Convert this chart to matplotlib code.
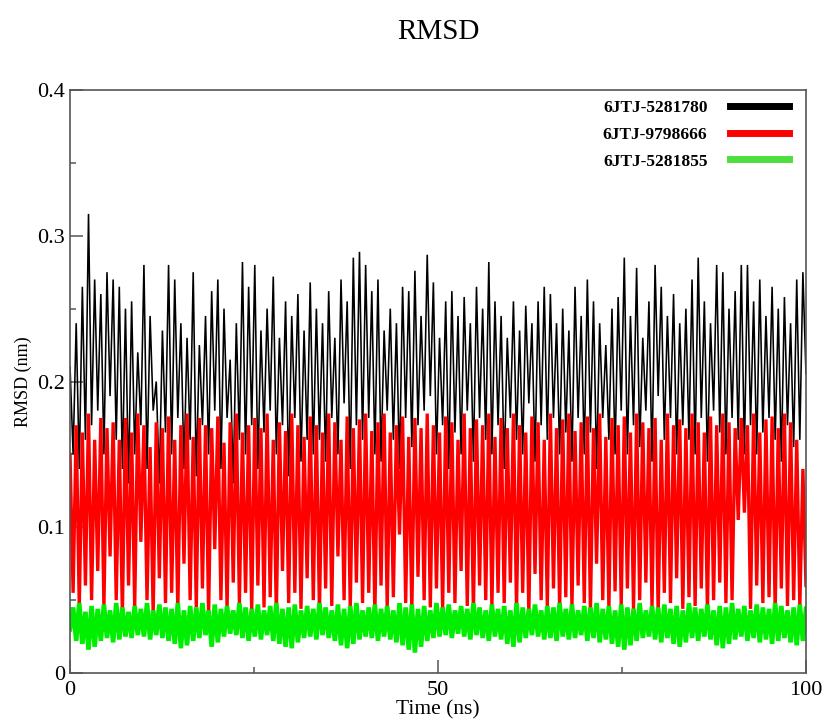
import numpy as np
import matplotlib
matplotlib.use("Agg")
import matplotlib.pyplot as plt
from matplotlib.ticker import MultipleLocator

# RMSD traces, in units of 0.001 nm
labels = ["6JTJ-5281780", "6JTJ-9798666", "6JTJ-5281855"]
colors = ["#000000", "#ff0000", "#00ee00"]
legend_colors = ["#000000", "#ff0000", "#4ddf3f"]

rmsd_5281780 = [
    210, 150, 240, 140, 265, 160, 315, 170, 270, 180, 260, 150, 275, 190, 270, 160, 265, 140, 250, 130,
    255, 150, 220, 170, 280, 140, 245, 180, 200, 130, 235, 165, 280, 150, 270, 175, 240, 140, 230, 160,
    275, 135, 225, 170, 245, 150, 262, 180, 270, 140, 250, 175, 215, 130, 240, 160, 282, 150, 265, 170,
    280, 140, 235, 165, 250, 180, 272, 150, 230, 170, 255, 135, 245, 175, 260, 145, 235, 160, 268, 150,
    250, 160, 240, 145, 262, 175, 230, 150, 270, 185, 255, 140, 285, 170, 289, 160, 280, 175, 262, 150,
    270, 145, 235, 180, 250, 160, 240, 140, 265, 175, 262, 155, 276, 170, 245, 180, 287, 190, 268, 150,
    230, 170, 255, 140, 262, 165, 245, 150, 258, 180, 240, 145, 265, 175, 250, 160, 282, 150, 255, 170,
    245, 140, 230, 175, 255, 160, 235, 150, 252, 185, 240, 145, 255, 170, 265, 160, 260, 175, 240, 150,
    250, 165, 235, 145, 265, 175, 245, 150, 270, 165, 255, 140, 240, 175, 225, 160, 250, 150, 258, 180,
    285, 150, 245, 170, 278, 155, 230, 180, 255, 145, 280, 190, 265, 160, 245, 175, 260, 150, 240, 170,
    250, 160, 270, 150, 285, 175, 255, 145, 240, 180, 280, 165, 275, 150, 250, 175, 262, 160, 280, 150,
    280, 170, 255, 150, 270, 165, 245, 175, 265, 160, 250, 145, 258, 170, 240, 155, 270, 160, 275, 205,
]

rmsd_9798666 = [
    150, 55, 170, 45, 165, 60, 178, 50, 160, 70, 175, 45, 168, 80, 172, 50, 160, 40, 175, 60,
    165, 45, 178, 90, 170, 50, 155, 40, 172, 65, 168, 48, 176, 55, 160, 42, 170, 75, 178, 50,
    162, 45, 175, 58, 170, 40, 168, 85, 176, 50, 158, 44, 172, 62, 178, 48, 165, 55, 170, 42,
    175, 60, 168, 45, 178, 52, 160, 40, 172, 70, 166, 48, 178, 55, 170, 44, 162, 65, 176, 50,
    170, 42, 165, 58, 178, 46, 172, 80, 160, 50, 176, 44, 168, 62, 174, 48, 178, 55, 166, 40,
    172, 60, 178, 45, 165, 52, 170, 95, 176, 48, 162, 42, 175, 66, 168, 50, 178, 45, 170, 58,
    165, 44, 176, 55, 172, 48, 160, 70, 178, 46, 168, 42, 174, 60, 170, 50, 178, 45, 162, 55,
    175, 48, 168, 62, 178, 44, 170, 55, 165, 40, 176, 68, 172, 50, 160, 46, 178, 58, 168, 44,
    174, 52, 178, 45, 166, 60, 172, 48, 176, 42, 168, 75, 178, 50, 162, 44, 175, 56, 170, 46,
    176, 58, 165, 44, 178, 50, 172, 62, 168, 45, 175, 40, 160, 55, 178, 48, 170, 65, 174, 44,
    168, 52, 178, 46, 172, 58, 165, 42, 176, 50, 170, 62, 178, 48, 172, 50, 168, 105, 175, 110,
    170, 44, 178, 60, 165, 48, 174, 52, 176, 42, 168, 58, 178, 46, 172, 50, 160, 45, 140, 60,
]

rmsd_5281855 = [
    30, 45, 22, 48, 20, 42, 16, 46, 18, 44, 22, 47, 24, 43, 21, 48, 23, 45, 25, 42,
    24, 46, 26, 44, 25, 48, 23, 43, 26, 47, 24, 45, 22, 44, 20, 48, 17, 43, 19, 46,
    22, 45, 24, 48, 26, 43, 18, 47, 21, 44, 25, 46, 27, 43, 26, 48, 24, 45, 22, 44,
    25, 47, 23, 43, 26, 46, 22, 48, 20, 44, 18, 45, 17, 47, 21, 43, 24, 46, 25, 44,
    23, 48, 26, 45, 24, 43, 22, 47, 19, 44, 17, 46, 20, 48, 23, 43, 25, 45, 24, 47,
    22, 44, 25, 46, 23, 43, 21, 48, 19, 45, 16, 47, 14, 44, 18, 46, 22, 43, 24, 48,
    25, 45, 26, 47, 24, 43, 27, 46, 25, 44, 23, 48, 26, 45, 24, 43, 22, 47, 25, 44,
    23, 46, 20, 43, 18, 48, 21, 45, 24, 44, 26, 47, 25, 43, 23, 46, 24, 45, 22, 48,
    25, 44, 23, 47, 24, 43, 26, 46, 22, 45, 24, 48, 21, 44, 23, 46, 20, 43, 18, 47,
    16, 45, 19, 44, 22, 48, 24, 43, 25, 46, 23, 45, 21, 47, 24, 44, 20, 46, 18, 43,
    21, 48, 24, 45, 22, 44, 25, 47, 23, 43, 19, 46, 17, 45, 20, 48, 23, 44, 25, 46,
    22, 43, 24, 47, 21, 45, 23, 44, 20, 48, 22, 46, 24, 43, 21, 45, 19, 47, 22, 44,
]

series = [rmsd_5281780, rmsd_9798666, rmsd_5281855]
widths = [1.15, 2.4, 3.3]

plt.rcParams['font.family'] = ['Liberation Serif', 'DejaVu Serif']

fig = plt.figure(figsize=(8.22, 7.26), dpi=100)
ax = fig.add_axes([0.0852, 0.073, 0.8953, 0.803])

for vals, col, lw in zip(series, colors, widths):
    y = np.array(vals) / 1000.0
    t = np.linspace(0, 100, len(y))
    ax.plot(t, y, color=col, lw=lw, solid_joinstyle='miter')

ax.set_xlim(0, 100)
ax.set_ylim(0, 0.4)
ax.xaxis.set_major_locator(MultipleLocator(50))
ax.xaxis.set_minor_locator(MultipleLocator(25))
ax.yaxis.set_major_locator(MultipleLocator(0.1))
ax.yaxis.set_minor_locator(MultipleLocator(0.05))
ax.yaxis.set_major_formatter(plt.FuncFormatter(lambda v, p: "0" if v == 0 else f"{v:.1f}"))

frame = "#555555"
for s in ax.spines.values():
    s.set_color(frame)
    s.set_linewidth(1.2)
    s.set_zorder(5)
ax.tick_params(which='both', direction='in', color=frame, labelsize=16, width=1.1)
ax.tick_params(which='major', length=9.5)
ax.tick_params(which='minor', length=4.5)
ax.tick_params(axis='x', pad=6)

ax.set_xlabel("Time (ns)", fontsize=15.5, labelpad=0)
ax.set_ylabel("RMSD (nm)", fontsize=13, labelpad=4)
ax.set_title("RMSD", fontsize=21, pad=37)

handles = [plt.Line2D([], [], color=c, lw=5) for c in legend_colors]
ax.legend(handles, labels, loc='upper right', frameon=False, markerfirst=False,
          prop={'weight': 'bold', 'size': 12.5}, handlelength=3.4,
          handletextpad=1.3, labelspacing=0.62, borderaxespad=0.15,
          bbox_to_anchor=(0.99, 1.0))

fig.savefig("out.png", dpi=100)
